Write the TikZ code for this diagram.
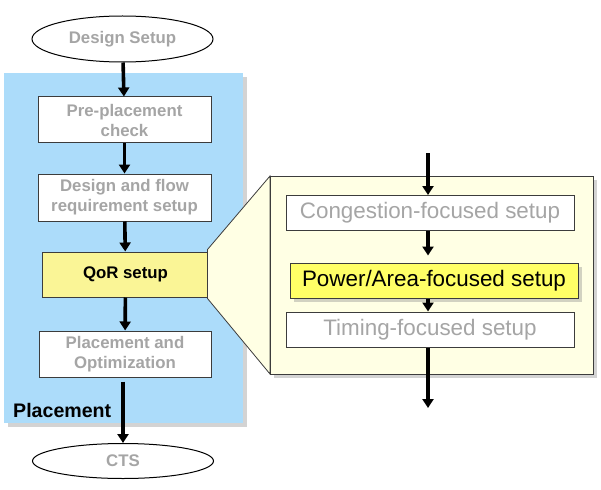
\documentclass[tikz,border=0pt]{standalone}
\usepackage{fontspec}
\setmainfont{Liberation Sans}
\usetikzlibrary{arrows.meta,shapes.geometric,shadows}
\definecolor{txtgrey}{RGB}{165,165,165}
\definecolor{bluebg}{RGB}{172,220,250}
\definecolor{cream}{RGB}{255,255,228}
\definecolor{qoryellow}{RGB}{250,245,150}
\definecolor{pwryellow}{RGB}{255,255,102}
\definecolor{edgegrey}{RGB}{60,60,60}
\tikzset{
  shd/.style={drop shadow={opacity=0.35,shadow xshift=4pt,shadow yshift=-4pt}},
  lbox/.style={draw=edgegrey,line width=1pt,fill=white,align=center,inner sep=0pt,
    font=\fontsize{16.8}{20}\selectfont\bfseries,text=txtgrey},
  rbox/.style={draw=edgegrey,line width=1pt,fill=white,inner sep=0pt,minimum width=288pt,minimum height=35pt,
    font=\fontsize{22.4}{26}\selectfont,text=txtgrey},
  term/.style={ellipse,draw=black,line width=1pt,fill=white,inner sep=0pt,minimum width=181pt,
    font=\fontsize{16.8}{20}\selectfont\bfseries,text=txtgrey},
  flow/.style={line width=3.6pt,-{Triangle[width=11pt,length=9pt]}},
}
\begin{document}
\begin{tikzpicture}[x=1pt,y=-1pt]
\useasboundingbox (0,0) rectangle (601,489);
% backgrounds
\fill[bluebg,shd] (4,73) rectangle (243,423);
\node[term,minimum height=46pt] (ds) at (122.5,39) {Design Setup};
\node[term,minimum height=35pt] (cts) at (123,461) {CTS};
\node[lbox,minimum width=173pt,minimum height=46pt] (pre) at (124.5,120) {Pre-placement\\check};
\node[lbox,minimum width=173pt,minimum height=47pt] (dfr) at (124.5,197.5) {Design and flow\\requirement setup};
\node[lbox,fill=qoryellow,text=black,minimum width=167pt,minimum height=45pt] (qor) at (125.5,274.5) {QoR setup};
\node[lbox,minimum width=172pt,minimum height=46pt] (popt) at (125,354) {Placement and\\Optimization};
\node[anchor=base west,font=\fontsize{19.6}{22}\selectfont\bfseries,inner sep=0pt] (plc) at (13,417) {Placement};
% right panel
\coordinate (pnw) at (270,176);
\coordinate (psw) at (270,374);
\fill[cream,shd] (270,176) rectangle (593,374);
\filldraw[fill=cream,draw=edgegrey,line width=0.8pt] ([xshift=-2pt,yshift=2pt]qor.north east) -- (pnw) -- (psw) -- ([xshift=-2pt,yshift=-1pt]qor.south east) -- cycle;
\draw[edgegrey,line width=1pt] (270,176) rectangle (593,374);
\node[rbox] (cong) at (430,213) {Congestion-focused setup};
\node[rbox,fill=pwryellow,text=black,shd] (pwr) at (434,280.5) {Power/Area-focused setup};
\node[rbox] (tim) at (430,329.5) {Timing-focused setup};
\coordinate (top) at (428,153);
\coordinate (bot) at (428,408);
% left arrows
\draw[flow] (ds) -- (pre);
\draw[flow] (pre) -- (dfr);
\draw[flow] (dfr) -- (qor);
\draw[flow] (qor) -- (popt);
\draw[flow] ([yshift=-4pt]popt.south -| cts.north) -- (cts.north);
% right arrows
\draw[flow] (top) -- (top |- cong.north);
\draw[flow,shorten >=7pt] (top |- cong.south) -- (top |- pwr.north);
\draw[flow] (top |- pwr.south) -- (top |- tim.north);
\draw[flow] (top |- tim.south) -- (bot);
\end{tikzpicture}
\end{document}
